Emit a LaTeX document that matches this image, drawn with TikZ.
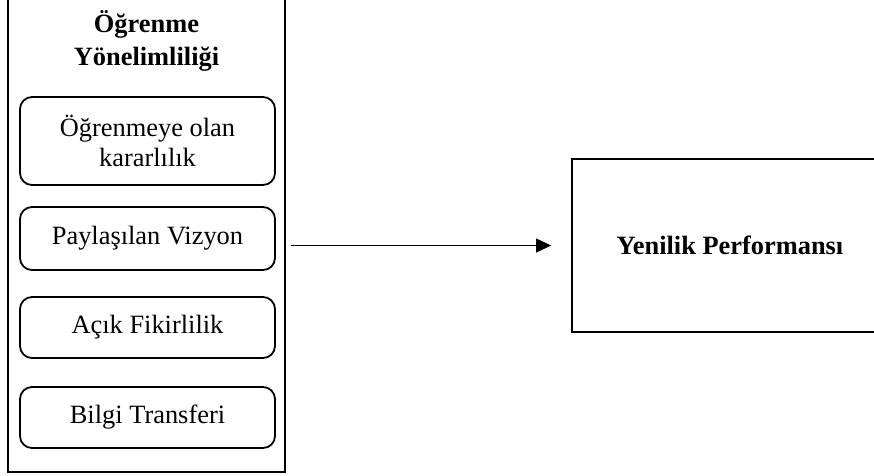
\documentclass[tikz,border=0pt]{standalone}
\usepackage{fontspec}
\setmainfont{Liberation Serif}
\usetikzlibrary{arrows.meta}
\begin{document}
\begin{tikzpicture}[x=1pt,y=-1pt,
  txt/.style={font=\fontsize{26.4}{30}\selectfont, align=center, inner sep=0pt},
  inbox/.style={txt, draw, line width=1.8pt, rounded corners=12pt, minimum width=255pt},
  sqbox/.style={draw, line width=1.8pt, inner sep=0pt},
  arr/.style={line width=1pt, -{Triangle[length=15pt,width=14pt]}}]
\useasboundingbox (0,0) rectangle (874,475);
\node[sqbox, minimum width=277pt, minimum height=477pt] (outer) at (146.5,233.5) {};
\node[txt, font=\bfseries\fontsize{26.4}{33}\selectfont] (title) at (146.5,41) {Öğrenme\\Yönelimliliği};
\node[inbox, minimum height=88pt] (b1) at (147.5,141) {Öğrenmeye olan\\kararlılık};
\node[inbox, minimum height=63pt] (b2) at (147.5,238.5) {Paylaşılan Vizyon};
\node[inbox, minimum height=61pt] (b3) at (147.5,327.5) {Açık Fikirlilik};
\node[inbox, minimum height=61pt] (b4) at (147.5,417.5) {Bilgi Transferi};
\node[sqbox, minimum width=316pt, minimum height=173pt] (perf) at (730,245.5) {};
\node[txt, font=\bfseries\fontsize{26.4}{30}\selectfont] (perft) at (perf.center) {Yenilik Performansı};
\draw[arr] ([xshift=5pt]outer.east |- perf.west) -- ([xshift=-20pt]perf.west);
\end{tikzpicture}
\end{document}
